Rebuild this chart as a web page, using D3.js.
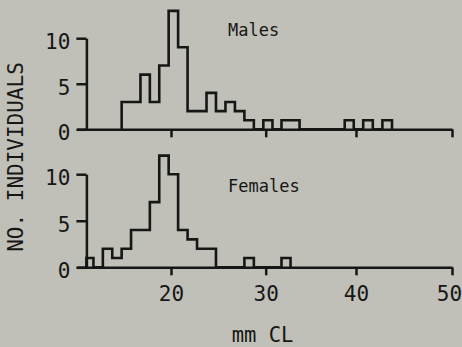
<!DOCTYPE html>
<meta charset="utf-8">
<style>
body {
  margin: 0;
  padding: 0;
  background: #c0c0b8;
}
svg text {
  font-family: "DejaVu Sans Mono", monospace;
  fill: #161616;
}
.axis path, .axis line {
  stroke: #161616;
  stroke-width: 2.5px;
}
.hist {
  fill: none;
  stroke: #161616;
  stroke-width: 2.6px;
  stroke-linejoin: miter;
}
</style>
<body>
<script src="https://d3js.org/d3.v7.min.js"></script>
<script>

// carapace length classes (mm) and counts
var maleBins = [15, 16, 17, 18, 19, 20, 21, 22, 23, 24, 25, 26, 27, 28, 29, 30, 31, 32, 33, 34, 35, 36, 37, 38, 39, 40, 41, 42, 43];
var maleCounts = [3, 3, 6, 3, 7, 13, 9, 2, 2, 4, 2, 3, 2, 1, 0, 1, 0, 1, 1, 0, 0, 0, 0, 0, 1, 0, 1, 0, 1];

var femaleBins = [11, 12, 13, 14, 15, 16, 17, 18, 19, 20, 21, 22, 23, 24, 25, 26, 27, 28, 29, 30, 31, 32];
var femaleCounts = [1, 0, 2, 1, 2, 4, 4, 7, 12, 10, 4, 3, 2, 2, 0, 0, 0, 1, 0, 0, 0, 1];

var xTicks = [20, 30, 40, 50];
var yTicks = [0, 5, 10];

var width = 462,
    height = 347,
    binShift = -0.25,  // class k is drawn from k-0.25 to k+0.75
    yAxisAt = 11;

// hand drawn axis: tick spacing is not quite even
var x = d3.scaleLinear()
    .domain([10, 20, 30, 40, 50])
    .range([77, 171, 265.7, 356, 452]);

var panels = [
  {label: "Males", bins: maleBins, counts: maleCounts, range: [129.3, 38.2], labelY: 36, labels: false},
  {label: "Females", bins: femaleBins, counts: femaleCounts, range: [267.3, 174.2], labelY: 191.5, labels: true}
];

var svg = d3.select("body").append("svg")
    .attr("width", width)
    .attr("height", height);

panels.forEach(function(p) {
  var y = d3.scaleLinear().domain([0, 10]).range(p.range);

  // x axis
  var xa = svg.append("g")
      .attr("class", "axis")
      .attr("transform", "translate(0," + p.range[0] + ")")
      .call(d3.axisBottom(x)
        .tickValues(xTicks)
        .tickSize(8)
        .tickSizeOuter(0)
        .tickPadding(11)
        .tickFormat(p.labels ? d3.format("d") : ""));
  xa.selectAll("text").style("font-size", "21px");
  // last label sits against the right edge
  xa.selectAll("text").filter(function(d) { return d === 50; }).attr("dx", "-3");

  // y axis
  var ya = svg.append("g")
      .attr("class", "axis")
      .attr("transform", "translate(" + x(yAxisAt) + ",0)")
      .call(d3.axisLeft(y)
        .tickValues(yTicks)
        .tickSize(10)
        .tickSizeOuter(0)
        .tickPadding(6)
        .tickFormat(d3.format("d")));
  ya.selectAll("text").style("font-size", "21px").attr("dy", "0.5em");

  // step outline of the histogram
  var pts = [];
  var left = function(k) { return Math.max(x(k + binShift), x(yAxisAt)); };
  pts.push([left(p.bins[0]), 0]);
  p.bins.forEach(function(b, i) {
    pts.push([left(b), p.counts[i]]);
  });
  pts.push([x(p.bins[p.bins.length - 1] + 1 + binShift), 0]);

  var line = d3.line()
      .x(function(d) { return d[0]; })
      .y(function(d) { return y(d[1]); })
      .curve(d3.curveStepAfter);

  svg.append("path")
      .attr("class", "hist")
      .attr("d", line(pts));

  svg.append("text")
      .attr("x", 228)
      .attr("y", p.labelY)
      .style("font-size", "17px")
      .text(p.label);
});

svg.append("text")
    .attr("transform", "translate(23,157) rotate(-90)")
    .attr("text-anchor", "middle")
    .style("font-size", "21px")
    .text("NO. INDIVIDUALS");

svg.append("text")
    .attr("x", 262.5)
    .attr("y", 341.5)
    .attr("text-anchor", "middle")
    .style("font-size", "20.5px")
    .text("mm CL");

</script>
